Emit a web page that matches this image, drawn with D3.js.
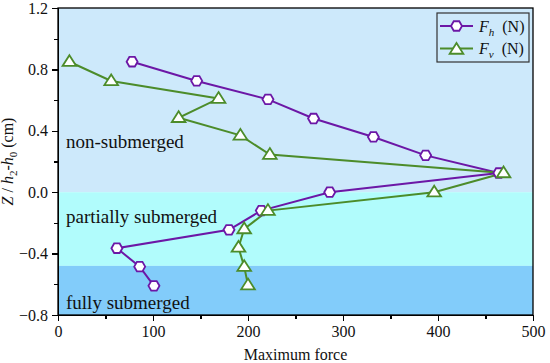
<!DOCTYPE html>
<meta charset="utf-8">
<style>
body { margin: 0; background: #fff; }
svg text { font-family: "Liberation Serif", "Times New Roman", serif; fill: #111; }
.axis path, .axis line { stroke: #000; stroke-width: 1.3px; shape-rendering: crispEdges; }
.axis text { font-size: 16px; font-family: "Liberation Serif", serif; }
</style>
<svg width="550" height="363"></svg>
<script src="https://cdn.jsdelivr.net/npm/d3@7"></script>
<script>
// depth levels (Z / h2-h0) and maximum forces
let zFh = [0.85, 0.725, 0.605, 0.48, 0.36, 0.24, 0.125, 0.0, -0.12, -0.245, -0.365, -0.485, -0.61];
let fh  = [78, 146, 221, 269, 332, 387, 464, 286, 214, 180, 62, 86, 101];
let zFv = [0.85, 0.725, 0.61, 0.485, 0.37, 0.245, 0.125, 0.0, -0.12, -0.24, -0.36, -0.485, -0.605];
let fv  = [12, 56, 169, 127, 192, 223, 469, 396, 221, 196, 190, 196, 200];
let xTicks = [0, 100, 200, 300, 400, 500];
let yTicks = [-0.8, -0.4, 0.0, 0.4, 0.8, 1.2];
let bands = [
    {from: 0, to: 1.2, label: "non-submerged", labelY: 0.29, color: "#cde9fb"},
    {from: -0.48, to: 0, label: "partially submerged", labelY: -0.2, color: "#b1fcfc"},
    {from: -0.8, to: -0.48, label: "fully submerged", labelY: -0.76, color: "#82ccfa"}
];

let svg = d3.select("svg"),
    margin = {top: 8, right: 17, bottom: 48, left: 58},
    width = 550 - margin.left - margin.right,
    height = 363 - margin.top - margin.bottom,
    g = svg.append("g").attr("transform", "translate(" + margin.left + "," + margin.top + ")");

let x = d3.scaleLinear().domain([0, 500]).range([0, width]),
    y = d3.scaleLinear().domain([-0.8, 1.2]).range([height, 0]);

// background zones
g.selectAll(".band")
    .data(bands)
    .enter().append("rect")
    .attr("x", 0)
    .attr("y", d => y(d.to))
    .attr("width", width)
    .attr("height", d => y(d.from) - y(d.to))
    .attr("fill", d => d.color);

g.selectAll(".band-label")
    .data(bands)
    .enter().append("text")
    .attr("x", 8)
    .attr("y", d => y(d.labelY))
    .style("font-size", "19px")
    .text(d => d.label);

// axes: major ticks with labels, minor ticks in between
g.append("g")
    .attr("class", "axis")
    .attr("transform", "translate(0," + height + ")")
    .call(d3.axisBottom(x).tickValues(d3.range(50, 500, 100)).tickSize(4).tickFormat(""));
g.append("g")
    .attr("class", "axis")
    .attr("transform", "translate(0," + height + ")")
    .call(d3.axisBottom(x).tickValues(xTicks).tickSize(6).tickPadding(5).tickSizeOuter(0));
g.append("g")
    .attr("class", "axis")
    .call(d3.axisLeft(y).tickValues(d3.range(-0.6, 1.2, 0.4)).tickSize(4).tickFormat(""));
g.append("g")
    .attr("class", "axis")
    .call(d3.axisLeft(y).tickValues(yTicks).tickSize(6).tickPadding(4).tickSizeOuter(0).tickFormat(d3.format(".1f")));

g.selectAll(".axis").attr("font-family", null);

g.append("rect")
    .attr("width", width)
    .attr("height", height)
    .attr("fill", "none")
    .attr("stroke", "#000")
    .attr("stroke-width", 1.3);

// axis titles
g.append("text")
    .attr("x", width / 2)
    .attr("y", height + 45)
    .attr("text-anchor", "middle")
    .style("font-size", "16px")
    .text("Maximum force");

let yl = g.append("text")
    .attr("transform", "translate(" + (-45) + "," + (height / 2) + ") rotate(-90)")
    .attr("text-anchor", "middle")
    .style("font-size", "16px");
yl.append("tspan").style("font-style", "italic").text("Z");
yl.append("tspan").text(" / ");
yl.append("tspan").style("font-style", "italic").text("h");
yl.append("tspan").attr("dy", 4).style("font-size", "11px").text("2");
yl.append("tspan").attr("dy", -4).text("-");
yl.append("tspan").style("font-style", "italic").text("h");
yl.append("tspan").attr("dy", 4).style("font-size", "11px").text("0");
yl.append("tspan").attr("dy", -4).text(" (cm)");

// series
let hexagon = function(r) {
    return d3.range(6).map(function(i) {
        let a = Math.PI / 3 * i;
        return [r * Math.cos(a), r * Math.sin(a)];
    });
};
let triangle = function(r) {
    return [[0, -r], [r * 1.05, r * 0.65], [-r * 1.05, r * 0.65]];
};

let series = [
    {id: "Fh", sub: "h", color: "#6c17a6", z: zFh, f: fh, shape: hexagon(5.5)},
    {id: "Fv", sub: "v", color: "#4c8c2a", z: zFv, f: fv, shape: triangle(6.5)}
];

let line = d3.line()
    .x(d => x(d[0]))
    .y(d => y(d[1]));

series.forEach(function(s) {
    let pts = s.f.map((v, i) => [v, s.z[i]]);
    g.append("path")
        .attr("d", line(pts))
        .attr("fill", "none")
        .attr("stroke", s.color)
        .attr("stroke-width", 2);
});

series.forEach(function(s) {
    let pts = s.f.map((v, i) => [v, s.z[i]]);
    g.selectAll(".m-" + s.id)
        .data(pts)
        .enter().append("polygon")
        .attr("points", s.shape.map(p => p.join(",")).join(" "))
        .attr("transform", d => "translate(" + x(d[0]) + "," + y(d[1]) + ")")
        .attr("fill", "#fff")
        .attr("stroke", s.color)
        .attr("stroke-width", 1.8);
});

// legend
let lg = svg.append("g").attr("transform", "translate(437,13)");
lg.append("rect")
    .attr("width", 92)
    .attr("height", 49)
    .attr("fill", "none")
    .attr("stroke", "#333")
    .attr("stroke-width", 1.2);

series.forEach(function(s, i) {
    let row = lg.append("g").attr("transform", "translate(0," + (13 + i * 22.5) + ")");
    row.append("line")
        .attr("x1", 3).attr("x2", 36)
        .attr("stroke", s.color).attr("stroke-width", 2);
    row.append("polygon")
        .attr("points", (i === 0 ? hexagon(5.5) : triangle(6.5)).map(p => p.join(",")).join(" "))
        .attr("transform", "translate(19.5," + (i === 0 ? 0 : 1) + ")")
        .attr("fill", "#fff")
        .attr("stroke", s.color)
        .attr("stroke-width", 1.8);
    let t = row.append("text")
        .attr("x", 42)
        .attr("y", 5.5)
        .style("font-size", "16px");
    t.append("tspan").style("font-style", "italic").text("F");
    t.append("tspan").attr("dy", 4).style("font-size", "11px").style("font-style", "italic").text(s.sub);
    t.append("tspan").attr("dy", -4).text("\u00a0 (N)");
});
</script>
